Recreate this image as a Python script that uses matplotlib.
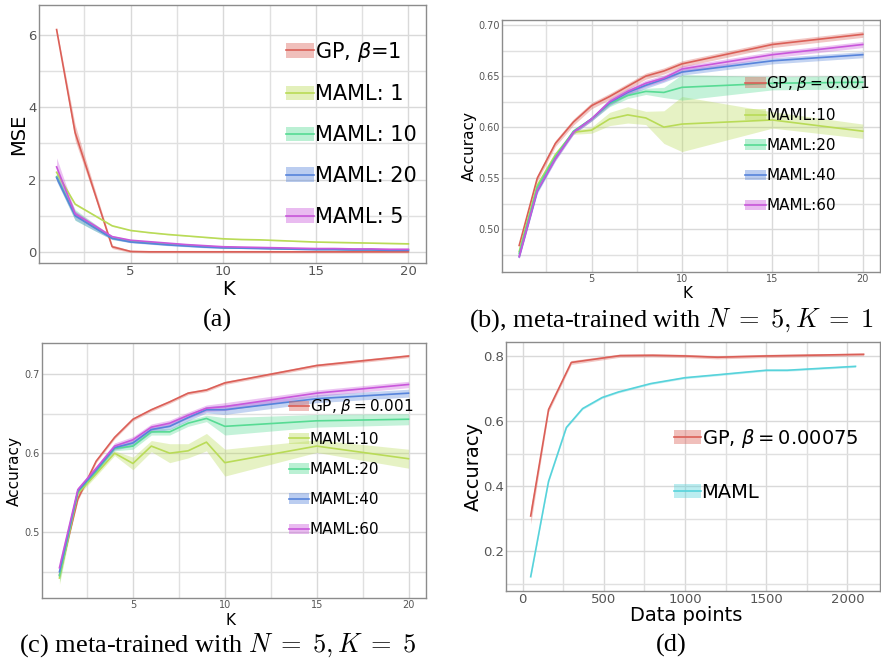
import matplotlib.pyplot as plt
import seaborn as sns
import numpy as np
from matplotlib.patches import Patch
from matplotlib.lines import Line2D
from matplotlib.legend_handler import HandlerTuple
from matplotlib.ticker import MultipleLocator, FormatStrFormatter

# (a) MSE vs K
k_a = list(range(1, 21))
gp_a = [6.15, 3.30, 1.72, 0.14, 0.01, 0.0, 0.0, 0.0, 0.0, 0.0,
        0.0, 0.0, 0.0, 0.0, 0.0, 0.0, 0.0, 0.0, 0.0, 0.0]
gp_a_sd = [0.05, 0.22, 0.12, 0.05, 0.03, 0.03, 0.03, 0.03, 0.03, 0.03,
           0.03, 0.03, 0.03, 0.03, 0.03, 0.03, 0.03, 0.03, 0.03, 0.03]
maml1_a = [2.20, 1.32, 1.02, 0.72, 0.59, 0.53, 0.48, 0.44, 0.40, 0.36,
           0.34, 0.33, 0.31, 0.29, 0.27, 0.26, 0.25, 0.24, 0.23, 0.22]
maml1_a_sd = [0.05, 0.03, 0.02, 0.02, 0.01, 0.01, 0.01, 0.01, 0.01, 0.01,
              0.01, 0.01, 0.01, 0.01, 0.01, 0.01, 0.01, 0.01, 0.01, 0.01]
maml10_a = [2.08, 1.02, 0.70, 0.38, 0.29, 0.25, 0.21, 0.18, 0.15, 0.12,
            0.11, 0.10, 0.09, 0.08, 0.07, 0.07, 0.06, 0.06, 0.05, 0.05]
maml10_a_sd = [0.10, 0.15, 0.10, 0.04, 0.03, 0.02, 0.02, 0.02, 0.02, 0.02,
               0.01, 0.01, 0.01, 0.01, 0.01, 0.01, 0.01, 0.01, 0.01, 0.01]
maml20_a = [2.05, 1.00, 0.68, 0.37, 0.27, 0.23, 0.19, 0.16, 0.13, 0.11,
            0.10, 0.09, 0.08, 0.07, 0.06, 0.06, 0.05, 0.05, 0.04, 0.04]
maml20_a_sd = [0.10, 0.12, 0.08, 0.03, 0.02, 0.02, 0.02, 0.02, 0.02, 0.02,
               0.01, 0.01, 0.01, 0.01, 0.01, 0.01, 0.01, 0.01, 0.01, 0.01]
maml5_a = [2.35, 1.05, 0.74, 0.42, 0.32, 0.28, 0.24, 0.20, 0.17, 0.14,
           0.13, 0.12, 0.11, 0.10, 0.09, 0.09, 0.08, 0.08, 0.07, 0.07]
maml5_a_sd = [0.25, 0.08, 0.05, 0.03, 0.02, 0.02, 0.02, 0.02, 0.02, 0.02,
              0.01, 0.01, 0.01, 0.01, 0.01, 0.01, 0.01, 0.01, 0.01, 0.01]
labels_a = ['GP, $\\beta$=1', 'MAML: 1', 'MAML: 10', 'MAML: 20', 'MAML: 5']

# (b) and (c) accuracy vs K
k_bc = [1, 2, 3, 4, 5, 6, 7, 8, 9, 10, 15, 20]
labels_bc = ['GP, $\\beta = 0.001$', 'MAML:10', 'MAML:20', 'MAML:40', 'MAML:60']

gp_b = [0.484, 0.550, 0.584, 0.605, 0.621, 0.630, 0.640, 0.650, 0.655, 0.662, 0.681, 0.691]
gp_b_sd = [0.003, 0.003, 0.003, 0.003, 0.003, 0.003, 0.003, 0.003, 0.003, 0.003, 0.003, 0.003]
maml10_b = [0.478, 0.543, 0.573, 0.595, 0.597, 0.608, 0.612, 0.609, 0.600, 0.603, 0.607, 0.596]
maml10_b_sd = [0.002, 0.002, 0.002, 0.002, 0.003, 0.0065, 0.008, 0.0065, 0.016, 0.027, 0.008, 0.007]
maml20_b = [0.476, 0.541, 0.571, 0.596, 0.608, 0.623, 0.631, 0.635, 0.634, 0.639, 0.643, 0.644]
maml20_b_sd = [0.002, 0.002, 0.002, 0.002, 0.002, 0.003, 0.003, 0.003, 0.005, 0.0125, 0.0065, 0.0065]
maml40_b = [0.473, 0.537, 0.569, 0.595, 0.608, 0.624, 0.634, 0.641, 0.647, 0.654, 0.665, 0.671]
maml40_b_sd = [0.002, 0.002, 0.002, 0.002, 0.002, 0.003, 0.003, 0.003, 0.003, 0.003, 0.003, 0.003]
maml60_b = [0.473, 0.538, 0.569, 0.595, 0.608, 0.625, 0.635, 0.643, 0.648, 0.657, 0.671, 0.681]
maml60_b_sd = [0.002, 0.002, 0.002, 0.002, 0.002, 0.003, 0.003, 0.003, 0.003, 0.003, 0.003, 0.003]

gp_c = [0.446, 0.542, 0.590, 0.620, 0.643, 0.655, 0.665, 0.676, 0.680, 0.689, 0.711, 0.723]
gp_c_sd = [0.003, 0.002, 0.002, 0.002, 0.002, 0.002, 0.002, 0.002, 0.002, 0.002, 0.002, 0.002]
maml10_c = [0.442, 0.549, 0.574, 0.600, 0.587, 0.609, 0.600, 0.603, 0.614, 0.588, 0.609, 0.593]
maml10_c_sd = [0.008, 0.003, 0.003, 0.003, 0.008, 0.007, 0.012, 0.009, 0.011, 0.017, 0.008, 0.012]
maml20_c = [0.445, 0.551, 0.577, 0.606, 0.609, 0.627, 0.627, 0.638, 0.644, 0.634, 0.641, 0.643]
maml20_c_sd = [0.008, 0.003, 0.003, 0.003, 0.004, 0.004, 0.004, 0.004, 0.004, 0.011, 0.008, 0.007]
maml40_c = [0.450, 0.552, 0.579, 0.607, 0.613, 0.630, 0.634, 0.645, 0.655, 0.655, 0.669, 0.676]
maml40_c_sd = [0.008, 0.003, 0.003, 0.003, 0.004, 0.004, 0.004, 0.004, 0.004, 0.006, 0.005, 0.005]
maml60_c = [0.455, 0.554, 0.581, 0.609, 0.617, 0.633, 0.638, 0.648, 0.657, 0.659, 0.676, 0.687]
maml60_c_sd = [0.008, 0.003, 0.003, 0.004, 0.004, 0.004, 0.004, 0.004, 0.004, 0.005, 0.004, 0.004]

# (d) accuracy vs data points
gp_d_x = [50, 160, 300, 600, 800, 1000, 1200, 1500, 2100]
gp_d = [0.308, 0.636, 0.781, 0.802, 0.803, 0.801, 0.797, 0.801, 0.806]
gp_d_sd = [0.025, 0.008, 0.006, 0.005, 0.005, 0.005, 0.005, 0.005, 0.004]
maml_d_x = [50, 160, 270, 370, 490, 590, 790, 1000, 1200, 1500, 1630, 2050]
maml_d = [0.121, 0.415, 0.581, 0.639, 0.673, 0.690, 0.716, 0.734, 0.743, 0.757, 0.757, 0.769]
maml_d_sd = [0.004, 0.004, 0.003, 0.003, 0.003, 0.003, 0.003, 0.003, 0.003, 0.003, 0.003, 0.003]
labels_d = ['GP, $\\beta = 0.00075$', 'MAML']

captions = ['(a)', '(b), meta-trained with $N\\;=\\;5, K\\;=\\;1$',
            '(c) meta-trained with $N\\;=\\;5, K\\;=\\;5$', '(d)']

W, H = 881, 659
fig = plt.figure(figsize=(W / 100, H / 100), dpi=100)
plt.rcParams['mathtext.fontset'] = 'dejavusans'


def add_ax(x0, y0, x1, y1):
    return fig.add_axes([x0 / W, 1 - y1 / H, (x1 - x0) / W, (y1 - y0) / H])


def style(ax, fs, xmaj, xmin, ymaj, ymin):
    for s in ax.spines.values():
        s.set_color('#8c8c8c')
        s.set_linewidth(1.0)
    ax.xaxis.set_major_locator(MultipleLocator(xmaj))
    ax.xaxis.set_minor_locator(MultipleLocator(xmin))
    ax.yaxis.set_major_locator(MultipleLocator(ymaj))
    ax.yaxis.set_minor_locator(MultipleLocator(ymin))
    ax.tick_params(which='both', length=0, labelsize=fs, labelcolor='#555555', pad=1.5)
    ax.grid(True, which='major', color='#d9d9d9', lw=1.0)
    ax.grid(True, which='minor', color='#e0e0e0', lw=1.0)
    ax.set_axisbelow(True)


def draw(ax, x, m, sd, color):
    m, sd = np.array(m), np.array(sd)
    ax.fill_between(x, m - sd, m + sd, color=color, alpha=0.35, lw=0)
    ax.plot(x, m, color=color, lw=1.2)


def legend(ax, labels, colors, fs, anchor, spacing):
    handles = [(Patch(facecolor=c, alpha=0.4, lw=0), Line2D([], [], color=c, lw=1.2))
               for c in colors]
    ax.legend(handles, labels, handler_map={tuple: HandlerTuple(ndivide=1)},
              loc='upper left', bbox_to_anchor=anchor, frameon=False, fontsize=fs,
              handlelength=1.35, handleheight=0.7, handletextpad=0.05,
              labelspacing=spacing, borderpad=0, borderaxespad=0)


pal5 = sns.color_palette('hls', 5)
pal2 = sns.color_palette('hls', 2)

# (a)
ax = add_ax(39, 5, 426, 263)
style(ax, 9.5, 5, 2.5, 2, 1)
for m, sd, c in zip([gp_a, maml1_a, maml10_a, maml20_a, maml5_a],
                    [gp_a_sd, maml1_a_sd, maml10_a_sd, maml20_a_sd, maml5_a_sd], pal5):
    draw(ax, k_a, m, sd, c)
ax.set_xlim(0.05, 20.95)
ax.set_ylim(-0.31, 6.83)
ax.set_xlabel('K', fontsize=14)
ax.set_ylabel('MSE', fontsize=14)
ax.xaxis.set_label_coords(0.49, -0.064)
ax.yaxis.set_label_coords(-0.027, 0.5)
legend(ax, labels_a, pal5, 15, (0.638, 0.866), 1.0)

# (b)
ax = add_ax(502, 20, 880, 272)
style(ax, 7, 5, 2.5, 0.05, 0.025)
ax.yaxis.set_major_formatter(FormatStrFormatter('%.2f'))
for m, sd, c in zip([gp_b, maml10_b, maml20_b, maml40_b, maml60_b],
                    [gp_b_sd, maml10_b_sd, maml20_b_sd, maml40_b_sd, maml60_b_sd], pal5):
    draw(ax, k_bc, m, sd, c)
ax.set_xlim(0.05, 20.95)
ax.set_ylim(0.458, 0.705)
ax.set_xlabel('K', fontsize=11)
ax.set_ylabel('Accuracy', fontsize=11)
ax.xaxis.set_label_coords(0.49, -0.056)
ax.yaxis.set_label_coords(-0.066, 0.5)
legend(ax, labels_bc, pal5, 11, (0.643, 0.786), 0.99)

# (c)
ax = add_ax(42, 343, 426, 598)
style(ax, 7, 5, 2.5, 0.1, 0.05)
ax.yaxis.set_major_formatter(FormatStrFormatter('%.1f'))
for m, sd, c in zip([gp_c, maml10_c, maml20_c, maml40_c, maml60_c],
                    [gp_c_sd, maml10_c_sd, maml20_c_sd, maml40_c_sd, maml60_c_sd], pal5):
    draw(ax, k_bc, m, sd, c)
ax.set_xlim(0.05, 20.95)
ax.set_ylim(0.4167, 0.7395)
ax.set_xlabel('K', fontsize=11)
ax.set_ylabel('Accuracy', fontsize=11)
ax.xaxis.set_label_coords(0.49, -0.058)
ax.yaxis.set_label_coords(-0.052, 0.5)
legend(ax, labels_bc, pal5, 11, (0.642, 0.787), 1.0)

# (d)
ax = add_ax(506, 342, 880, 591)
style(ax, 9.5, 500, 250, 0.2, 0.1)
draw(ax, gp_d_x, gp_d, gp_d_sd, pal2[0])
draw(ax, maml_d_x, maml_d, maml_d_sd, pal2[1])
ax.set_xlim(-102, 2201)
ax.set_ylim(0.077, 0.844)
ax.set_xlabel('Data points', fontsize=14)
ax.set_ylabel('Accuracy', fontsize=14)
ax.xaxis.set_label_coords(0.483, -0.06)
ax.yaxis.set_label_coords(-0.062, 0.5)
legend(ax, labels_d, pal2, 14, (0.45, 0.659), 1.7)

# captions
for (cx, cy), s in zip([(217, 327), (671.5, 327), (217.5, 652), (671.5, 652)], captions):
    fig.text(cx / W, 1 - cy / H, s, ha='center', va='baseline', fontsize=19,
             fontfamily='Liberation Serif', math_fontfamily='cm')

fig.savefig('out.png', dpi=100)
